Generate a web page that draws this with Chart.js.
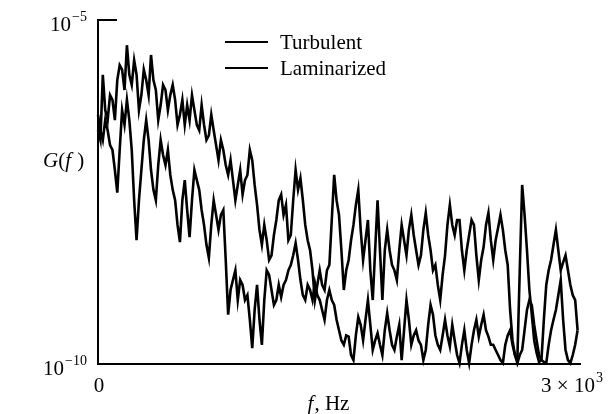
<!DOCTYPE html>
<html>
<head>
<meta charset="utf-8">
<script src="https://cdn.jsdelivr.net/npm/chart.js"></script>
<style>
  html, body { margin: 0; padding: 0; background: #fff; }
  #wrap { width: 609px; height: 414px; }
</style>
</head>
<body>
<div id="wrap"><canvas id="spectrum" width="609" height="414"></canvas></div>
<script>
// frequency, Hz
var freq = [
  0, 15, 30, 45, 60, 75, 90, 105, 120, 135,
  150, 165, 180, 195, 210, 225, 240, 255, 270, 285,
  300, 315, 330, 345, 360, 375, 390, 405, 420, 435,
  450, 465, 480, 495, 510, 525, 540, 555, 570, 585,
  600, 615, 630, 645, 660, 675, 690, 705, 720, 735,
  750, 765, 780, 795, 810, 825, 840, 855, 870, 885,
  900, 915, 930, 945, 960, 975, 990, 1005, 1020, 1035,
  1050, 1065, 1080, 1095, 1110, 1125, 1140, 1155, 1170, 1185,
  1200, 1215, 1230, 1245, 1260, 1275, 1290, 1305, 1320, 1335,
  1350, 1365, 1380, 1395, 1410, 1425, 1440, 1455, 1470, 1485,
  1500, 1515, 1530, 1545, 1560, 1575, 1590, 1605, 1620, 1635,
  1650, 1665, 1680, 1695, 1710, 1725, 1740, 1755, 1770, 1785,
  1800, 1815, 1830, 1845, 1860, 1875, 1890, 1905, 1920, 1935,
  1950, 1965, 1980, 1995, 2010, 2025, 2040, 2055, 2070, 2085,
  2100, 2115, 2130, 2145, 2160, 2175, 2190, 2205, 2220, 2235,
  2250, 2265, 2280, 2295, 2310, 2325, 2340, 2355, 2370, 2385,
  2400, 2415, 2430, 2445, 2460, 2475, 2490, 2505, 2520, 2535,
  2550, 2565, 2580, 2595, 2610, 2625, 2640, 2655, 2670, 2685,
  2700, 2715, 2730, 2745, 2760, 2775, 2790, 2805, 2820, 2835,
  2850, 2865, 2880, 2895, 2910, 2925, 2940, 2955, 2970, 2985
];

// spectral density G(f)
var turbulent = [
  2.5e-7, 1.8e-7, 1.6e-6, 4.9e-7, 3.5e-7, 8.1e-7, 6.9e-7, 3.5e-7, 1.34e-6, 2.2e-6,
  1.9e-6, 9.6e-7, 4.3e-6, 1.6e-6, 1.14e-6, 2.6e-6, 1.6e-6, 4.9e-7, 8.1e-7, 1.9e-6,
  1.34e-6, 8.1e-7, 3.1e-6, 1.34e-6, 9.6e-7, 3.5e-7, 5.8e-7, 1.14e-6, 9.6e-7, 4.9e-7,
  8.1e-7, 1.14e-6, 6.9e-7, 3.0e-7, 4.2e-7, 6.9e-7, 3.0e-7, 5.8e-7, 3.5e-7, 8.1e-7,
  4.9e-7, 3.0e-7, 2.5e-7, 5.8e-7, 3.0e-7, 1.8e-7, 2.1e-7, 4.2e-7, 2.5e-7, 1.52e-7,
  9.2e-8, 1.8e-7, 1.29e-7, 7.8e-8, 5.6e-8, 9.2e-8, 4.7e-8, 2.4e-8, 4.0e-8, 6.6e-8,
  2.9e-8, 4.7e-8, 5.6e-8, 1.29e-7, 9.2e-8, 4.0e-8, 2.05e-8, 8.9e-9, 5.4e-9, 1.05e-8,
  6.3e-9, 3.25e-9, 3.8e-9, 7.5e-9, 1.24e-8, 2.4e-8, 2.9e-8, 1.47e-8, 2.05e-8, 6.3e-9,
  7.5e-9, 2.4e-8, 6.6e-8, 3.4e-8, 5.0e-8, 2.4e-8, 1.05e-8, 6.3e-9, 4.5e-9, 2.3e-9,
  8.5e-10, 1.41e-9, 2.3e-9, 1.41e-9, 1.19e-9, 2.3e-9, 2.75e-9, 1.24e-8, 5.6e-8, 2.4e-8,
  1.47e-8, 4.5e-9, 1.19e-9, 2.3e-9, 3.25e-9, 6.3e-9, 1.05e-8, 2.05e-8, 3.4e-8, 8.9e-9,
  3.25e-9, 6.3e-9, 1.24e-8, 2.3e-9, 8.5e-10, 4.5e-9, 2.4e-8, 4.5e-9, 8.5e-10, 4.5e-9,
  8.9e-9, 4.5e-9, 2.75e-9, 2.3e-9, 1.66e-9, 4.5e-9, 1.05e-8, 6.3e-9, 3.8e-9, 8.9e-9,
  1.47e-8, 7.5e-9, 4.5e-9, 2.75e-9, 3.8e-9, 8.9e-9, 1.57e-8, 7.5e-9, 4.5e-9, 2.3e-9,
  2.75e-9, 1.41e-9, 8.5e-10, 1.97e-9, 3.8e-9, 1.05e-8, 2.05e-8, 1.05e-8, 7.5e-9, 1.24e-8,
  1.24e-8, 4.5e-9, 2.3e-9, 4.5e-9, 7.5e-9, 1.24e-8, 1.05e-8, 3.8e-9, 1.66e-9, 3.25e-9,
  5.0e-9, 1.05e-8, 1.57e-8, 6.3e-9, 3.25e-9, 6.3e-9, 9.5e-9, 1.47e-8, 8.9e-9, 4.5e-9,
  2.75e-9, 6.1e-10, 2.2e-10, 1.35e-10, 1.14e-10, 2.3e-9, 4.0e-8, 1.47e-8, 4.5e-9, 1.19e-9,
  5.2e-10, 2.2e-10, 1.45e-10, 1.07e-10, 1.14e-10, 4.4e-10, 1.41e-9, 2.3e-9, 3.25e-9, 5.4e-9,
  8.9e-9, 4.5e-9, 2.3e-9, 3.0e-9, 3.8e-9, 2.3e-9, 1.41e-9, 1.0e-9, 8.5e-10, 3.1e-10
];

var laminarized = [
  4.2e-7, 2.5e-7, 1.8e-7, 3.5e-7, 2.5e-7, 1.52e-7, 1.29e-7, 6.6e-8, 3.1e-8, 1.29e-7,
  4.9e-7, 3.0e-7, 6.9e-7, 3.5e-7, 1.29e-7, 2.4e-8, 6.3e-9, 2.4e-8, 6.6e-8, 1.8e-7,
  3.5e-7, 1.8e-7, 6.6e-8, 3.4e-8, 2.4e-8, 7.8e-8, 1.8e-7, 1.09e-7, 7.8e-8, 1.29e-7,
  5.6e-8, 3.4e-8, 2.4e-8, 1.05e-8, 5.9e-9, 2.4e-8, 4.7e-8, 1.73e-8, 7.0e-9, 2.4e-8,
  6.6e-8, 4.7e-8, 3.4e-8, 1.73e-8, 1.05e-8, 5.4e-9, 3.5e-9, 1.05e-8, 2.4e-8, 1.47e-8,
  8.9e-9, 1.47e-8, 1.73e-8, 3.25e-9, 5.2e-10, 1.19e-9, 1.66e-9, 2.3e-9, 8.5e-10, 1.66e-9,
  1.41e-9, 8.5e-10, 1.0e-9, 4.4e-10, 1.7e-10, 6.1e-10, 1.41e-9, 4.4e-10, 1.9e-10, 8.5e-10,
  2.3e-9, 1.97e-9, 1.19e-9, 7.2e-10, 8.5e-10, 1.41e-9, 9.4e-10, 1.41e-9, 1.66e-9, 2.3e-9,
  2.75e-9, 3.8e-9, 5.7e-9, 3.25e-9, 1.66e-9, 1.0e-9, 8.5e-10, 1.41e-9, 1.19e-9, 8.5e-10,
  1.5e-9, 1.0e-9, 8.5e-10, 6.1e-10, 4.4e-10, 8.5e-10, 1.19e-9, 8.5e-10, 7.2e-10, 4.4e-10,
  3.1e-10, 2.2e-10, 1.9e-10, 2.6e-10, 2.5e-10, 1.35e-10, 1.14e-10, 2.6e-10, 4.8e-10, 3.7e-10,
  2.2e-10, 4.4e-10, 8.5e-10, 3.7e-10, 1.6e-10, 2.2e-10, 2.8e-10, 1.9e-10, 1.35e-10, 3.1e-10,
  5.5e-10, 3.1e-10, 1.9e-10, 1.6e-10, 2.5e-10, 3.7e-10, 1.14e-10, 3.1e-10, 8.5e-10, 4.4e-10,
  1.9e-10, 2.6e-10, 3.1e-10, 2.2e-10, 1.9e-10, 1.14e-10, 1.6e-10, 3.7e-10, 7.2e-10, 5.2e-10,
  2.6e-10, 1.9e-10, 1.6e-10, 2.6e-10, 4.4e-10, 2.6e-10, 1.8e-10, 3.7e-10, 2.2e-10, 1.35e-10,
  1.03e-10, 1.9e-10, 3.1e-10, 1.6e-10, 1.03e-10, 1.9e-10, 3.1e-10, 4.4e-10, 2.5e-10, 3.7e-10,
  5.2e-10, 3.1e-10, 2.5e-10, 1.9e-10, 1.9e-10, 1.6e-10, 1.35e-10, 1.14e-10, 1.03e-10, 1.9e-10,
  2.6e-10, 3.1e-10, 1.9e-10, 1.35e-10, 1.03e-10, 1.35e-10, 1.6e-10, 3.1e-10, 6.1e-10, 8.5e-10,
  7.2e-10, 3.7e-10, 2.2e-10, 1.35e-10, 1.14e-10, 1.07e-10, 1.03e-10, 1.9e-10, 3.1e-10, 4.4e-10,
  6.1e-10, 1.0e-9, 1.66e-9, 4.4e-10, 1.6e-10, 1.14e-10, 1.03e-10, 1.35e-10, 1.9e-10, 3.1e-10
];

// axis ticks: [base, exponent]
var xTicks = [0, 3000];
var xTickLabels = [['0', ''], ['3 \u00d7 10', '3']];
var yTicks = [1e-10, 1e-5];
var yTickLabels = [['10', '\u221210'], ['10', '\u22125']];

var serif = '"Liberation Serif", "Times New Roman", serif';

function points(values) {
  return freq.map(function (f, i) { return { x: f, y: values[i] }; });
}

// number with a raised exponent
function drawPower(ctx, base, sup, x, y, align) {
  ctx.font = '21px ' + serif;
  var wb = ctx.measureText(base).width;
  ctx.font = '14px ' + serif;
  var ws = sup ? ctx.measureText(sup).width + 1 : 0;
  var w = wb + ws;
  var x0 = align === 'right' ? x - w : (align === 'center' ? x - w / 2 : x);
  ctx.textAlign = 'left';
  ctx.textBaseline = 'alphabetic';
  ctx.font = '21px ' + serif;
  ctx.fillText(base, x0, y);
  if (sup) {
    ctx.font = '14px ' + serif;
    ctx.fillText(sup, x0 + wb + 1, y - 10);
  }
}

var annotate = {
  id: 'annotate',
  afterDraw: function (chart) {
    var ctx = chart.ctx;
    var xs = chart.scales.x, ys = chart.scales.y;
    var area = chart.chartArea;
    ctx.save();
    ctx.fillStyle = '#000';
    ctx.strokeStyle = '#000';

    // short tick at the top of the y axis
    ctx.lineWidth = 2;
    ctx.beginPath();
    ctx.moveTo(area.left - 1, ys.getPixelForValue(yTicks[1]));
    ctx.lineTo(area.left + 19, ys.getPixelForValue(yTicks[1]));
    ctx.stroke();

    yTicks.forEach(function (v, i) {
      drawPower(ctx, yTickLabels[i][0], yTickLabels[i][1], 87, ys.getPixelForValue(v) + 11, 'right');
    });

    drawPower(ctx, xTickLabels[0][0], xTickLabels[0][1], xs.getPixelForValue(xTicks[0]) + 1, 392, 'center');
    drawPower(ctx, xTickLabels[1][0], xTickLabels[1][1], xs.getPixelForValue(xTicks[1]) - 8, 392, 'center');

    // x axis title: f, Hz
    ctx.font = 'italic 21px ' + serif;
    var wf = ctx.measureText('f').width;
    ctx.font = '21px ' + serif;
    var wr = ctx.measureText(', Hz').width;
    var tx = 328 - (wf + wr) / 2;
    ctx.font = 'italic 21px ' + serif;
    ctx.fillText('f', tx, 410);
    ctx.font = '21px ' + serif;
    ctx.fillText(', Hz', tx + wf + 1, 410);

    // y axis title: G(f)
    var gx = 43, gy = 167;
    var parts = [['G', true], ['(', false], ['f', true], [' )', false]];
    parts.forEach(function (p) {
      ctx.font = (p[1] ? 'italic ' : '') + '21px ' + serif;
      ctx.fillText(p[0], gx, gy);
      gx += ctx.measureText(p[0]).width + (p[0] === 'f' ? 1 : 0);
    });

    // legend
    chart.data.datasets.forEach(function (ds, i) {
      var ly = 42 + i * 26;
      ctx.lineWidth = 2;
      ctx.beginPath();
      ctx.moveTo(225, ly);
      ctx.lineTo(268, ly);
      ctx.stroke();
      ctx.font = '21px ' + serif;
      ctx.fillText(ds.label, 280, ly + 7);
    });

    ctx.restore();
  }
};

var spectrum = document.getElementById('spectrum').getContext('2d');
var spectrumChart = new Chart(spectrum, {
  type: 'line',
  data: {
    datasets: [{
      label: 'Turbulent',
      data: points(turbulent),
      borderColor: '#000',
      borderWidth: 2.6,
      pointRadius: 0,
      tension: 0,
      fill: false,
      clip: false
    }, {
      label: 'Laminarized',
      data: points(laminarized),
      borderColor: '#000',
      borderWidth: 2.6,
      pointRadius: 0,
      tension: 0,
      fill: false,
      clip: false
    }]
  },
  options: {
    responsive: false,
    animation: false,
    events: [],
    layout: { padding: { left: 98, right: 29, top: 20, bottom: 50 } },
    plugins: { legend: { display: false }, tooltip: { enabled: false } },
    scales: {
      x: {
        type: 'linear',
        min: 0,
        max: 3000,
        grid: { display: false },
        border: { display: true, color: '#000', width: 2 },
        ticks: { display: false },
        afterFit: function (s) { s.height = 0; }
      },
      y: {
        type: 'logarithmic',
        min: 1e-10,
        max: 1e-5,
        grid: { display: false },
        border: { display: true, color: '#000', width: 2 },
        ticks: { display: false },
        afterFit: function (s) { s.width = 0; }
      }
    }
  },
  plugins: [annotate]
});
</script>
</body>
</html>
